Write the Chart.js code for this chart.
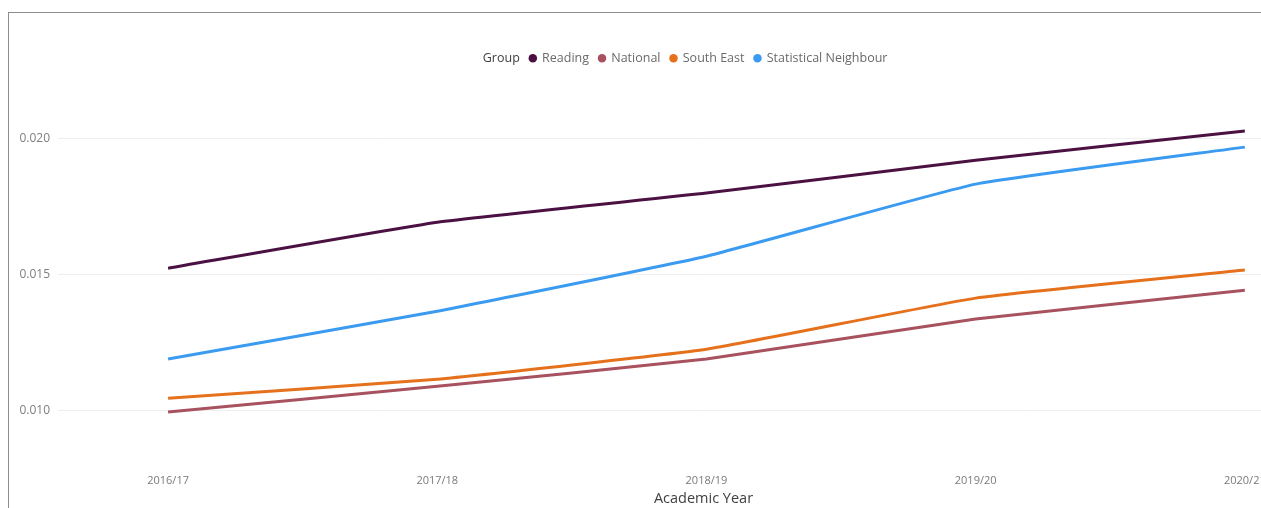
<!DOCTYPE html>
<html>
<head>
<meta charset="utf-8">
<script src="https://cdn.jsdelivr.net/npm/chart.js@4/dist/chart.umd.min.js"></script>
<style>
  html, body { margin: 0; padding: 0; background: #fff; overflow: hidden; }
  #frame {
    position: absolute; left: 8px; top: 12px;
    width: 1340px; height: 500px;
    border-top: 1px solid #8c8c8c; border-left: 1px solid #8c8c8c;
    overflow: hidden;
  }
  #wrap { position: absolute; left: 0; top: 0; width: 1340px; height: 495px; }
</style>
</head>
<body>
<div id="frame"><div id="wrap"><canvas id="c"></canvas></div></div>
<script>
// Academic years on the x axis
const years = ['2016/17', '2017/18', '2018/19', '2019/20', '2020/21'];

// Rate per group and year
const reading = [0.01522, 0.01691, 0.01798, 0.01919, 0.02026];
const national = [0.00993, 0.01088, 0.01188, 0.01335, 0.01441];
const southEast = [0.01044, 0.01114, 0.01224, 0.01412, 0.01515];
const statNeighbour = [0.01188, 0.01364, 0.01566, 0.01831, 0.01967];

// Y-axis tick labels
const yTicks = [0.010, 0.015, 0.020];

const groups = [
  { label: 'Reading', values: reading, color: '#4b1142' },
  { label: 'National', values: national, color: '#a8525f' },
  { label: 'South East', values: southEast, color: '#e6711d' },
  { label: 'Statistical Neighbour', values: statNeighbour, color: '#3a9bf0' }
];

const FONT = '"Open Sans", "Noto Sans", sans-serif';

const datasets = groups.map(g => ({
  label: g.label,
  data: g.values.map((v, i) => ({ x: i, y: v })),
  borderColor: g.color,
  backgroundColor: g.color,
  borderWidth: 3,
  pointRadius: 0,
  tension: 0.12,
  fill: false
}));

new Chart(document.getElementById('c'), {
  type: 'line',
  data: { datasets },
  options: {
    responsive: true,
    maintainAspectRatio: false,
    animation: false,
    layout: { padding: { top: 29, left: 0, right: 0, bottom: 0 } },
    plugins: {
      tooltip: { enabled: false },
      legend: {
        position: 'top',
        align: 'center',
        labels: {
          usePointStyle: true,
          pointStyle: 'circle',
          boxWidth: 6,
          boxHeight: 6,
          padding: 10,
          color: '#6a6a6a',
          font: { family: FONT, size: 12.5 },
          generateLabels(chart) {
            const items = Chart.defaults.plugins.legend.labels.generateLabels(chart);
            items.forEach(it => { it.lineWidth = 0; });
            items.unshift({
              text: 'Group',
              fillStyle: 'rgba(0,0,0,0)',
              strokeStyle: 'rgba(0,0,0,0)',
              lineWidth: 0,
              hidden: false,
              pointStyle: 'circle',
              fontColor: '#3f3f3f'
            });
            return items;
          }
        }
      }
    },
    scales: {
      x: {
        type: 'linear',
        min: -0.409,
        max: 4.387,
        afterBuildTicks(scale) {
          scale.ticks = years.map((_, i) => ({ value: i }));
        },
        afterFit(scale) { scale.height = 57; },
        grid: { display: false, drawTicks: false },
        border: { display: false },
        ticks: {
          padding: 23,
          maxRotation: 0,
          autoSkip: false,
          color: '#7a7a7a',
          font: { family: FONT, size: 11 },
          callback: v => years[v]
        },
        title: {
          display: true,
          text: 'Academic Year',
          color: '#404040',
          font: { family: FONT, size: 14.5 },
          padding: { top: 0, bottom: 0.5 }
        }
      },
      y: {
        min: 0.0085,
        max: 0.02234,
        afterBuildTicks(scale) {
          scale.ticks = yTicks.map(v => ({ value: v }));
        },
        afterFit(scale) { scale.width = 49; },
        grid: { color: '#efefef', lineWidth: 1, drawTicks: false },
        border: { display: false },
        ticks: {
          padding: 8,
          color: '#7d7d7d',
          font: { family: FONT, size: 12 },
          callback: v => v.toFixed(3)
        }
      }
    }
  }
});
</script>
</body>
</html>
